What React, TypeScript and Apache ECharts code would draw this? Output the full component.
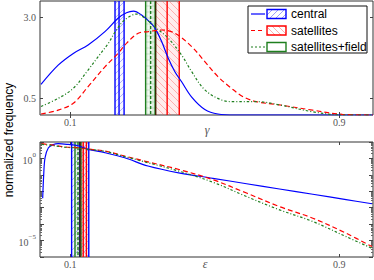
import React, { useEffect, useRef } from "react";
import * as echarts from "echarts";

const BLUE = "#0000ff";
const RED = "#ff0000";
const GREEN = "#1f7f1f";
const DARK_EDGE = "#3a2600";

// ---- top panel (gamma) ----
const centralGammaX = [0.013, 0.064, 0.109, 0.153, 0.203, 0.242, 0.267, 0.288, 0.312, 0.342, 0.354, 0.372, 0.391, 0.411, 0.431, 0.461, 0.5, 0.539, 0.589, 0.7, 1.0];
const centralGammaY = [0.94, 1.53, 1.89, 2.15, 2.56, 2.97, 3.14, 3.19, 3.07, 2.8, 2.63, 2.25, 1.75, 1.33, 1.02, 0.55, 0.17, 0.03, 0, 0, 0];

const satellitesGammaX = [0.013, 0.064, 0.109, 0.153, 0.203, 0.242, 0.267, 0.302, 0.332, 0.372, 0.411, 0.461, 0.5, 0.539, 0.579, 0.614, 0.653, 0.722, 0.82, 0.909, 1.0];
const satellitesGammaY = [0.03, 0.15, 0.36, 0.87, 1.48, 1.89, 2.2, 2.51, 2.56, 2.61, 2.51, 2.1, 1.64, 1.18, 0.82, 0.56, 0.41, 0.31, 0.15, 0.02, 0];

const fieldGammaX = [0.013, 0.064, 0.109, 0.153, 0.183, 0.213, 0.237, 0.262, 0.298, 0.322, 0.352, 0.391, 0.431, 0.461, 0.5, 0.55, 0.589, 0.653, 0.722, 0.82, 0.909, 1.0];
const fieldGammaY = [0.26, 0.51, 0.82, 1.38, 1.79, 2.2, 2.61, 2.92, 3.1, 2.97, 2.7, 2.36, 1.84, 1.33, 0.77, 0.46, 0.41, 0.41, 0.31, 0.1, 0, 0];

// ---- bottom panel (epsilon, log y) ----
const centralEpsX = [0.018, 0.021, 0.025, 0.035, 0.05, 0.064, 0.094, 0.124, 0.153, 0.203, 0.262, 0.331, 0.426, 0.524, 0.624, 0.722, 0.821, 0.92, 0.997];
const centralEpsY = [3.8e-3, 0.1, 1.1, 4.47, 7.08, 7.94, 7.08, 5.75, 3.55, 2.24, 1.1, 0.347, 0.129, 0.0617, 0.0288, 0.0138, 6.6e-3, 3.09e-3, 1.74e-3];

const satellitesEpsX = [0.015, 0.045, 0.084, 0.124, 0.163, 0.203, 0.262, 0.321, 0.426, 0.525, 0.624, 0.722, 0.821, 0.92, 0.997];
const satellitesEpsY = [7.9, 6.6, 5.0, 4.5, 3.55, 2.8, 1.4, 0.69, 0.204, 0.05, 7.8e-3, 1.17e-3, 2.3e-4, 2.8e-5, 4.3e-6];

const fieldEpsX = [0.015, 0.045, 0.084, 0.124, 0.163, 0.203, 0.262, 0.321, 0.426, 0.525, 0.624, 0.722, 0.821, 0.92, 0.997];
const fieldEpsY = [7.2, 6.2, 4.8, 4.3, 3.4, 2.7, 1.3, 0.62, 0.162, 0.035, 4.8e-3, 7.4e-4, 1.45e-4, 1.74e-5, 3.4e-6];

// ---- bands: [low, centre, high] ----
const centralGammaBand = [0.233, 0.245, 0.26];
const satellitesGammaBand = [0.354, 0.388, 0.424];
const fieldGammaBand = [0.324, 0.339, 0.352];
const centralEpsBand = [0.104, 0.128, 0.155];
const satellitesEpsBand = [0.129, 0.1385, 0.148];
const fieldEpsBand = [0.114, 0.123, 0.132];

// ---- ticks / texts ----
const xTickValues = [0.1, 0.9];
const gammaFreqTicks = [0.5, 3.0];
const legendNames = ["central", "satellites", "satellites+field"];
const axisTitles = ["\u03b3", "\u03b5"];

const zip = (xs: number[], ys: number[]) => xs.map((x, i) => [x, ys[i]]);

type Seg = [number, number, number, number];
function hatch(x0: number, y0: number, x1: number, y1: number, kind: string, step: number): Seg[] {
  const segs: Seg[] = [];
  if (kind === "/") {
    for (let c = Math.ceil((x0 + y0) / step) * step; c < x1 + y1; c += step) {
      const xa = Math.max(x0, c - y1), xb = Math.min(x1, c - y0);
      if (xb > xa) segs.push([xa, c - xa, xb, c - xb]);
    }
  } else if (kind === "\\") {
    for (let c = Math.ceil((y0 - x1) / step) * step; c < y1 - x0; c += step) {
      const xa = Math.max(x0, y0 - c), xb = Math.min(x1, y1 - c);
      if (xb > xa) segs.push([xa, xa + c, xb, xb + c]);
    }
  } else if (kind === "+") {
    for (let x = Math.ceil(x0 / 3) * 3; x < x1; x += 3) segs.push([x, y0, x, y1]);
    for (let y = Math.ceil(y0 / 6) * 6; y < y1; y += 6) segs.push([x0, y, x1, y]);
  }
  return segs;
}

type BandStyle = { color: string; leftColor?: string; fill: string; hatchColor: string; kind: string; midDash?: number[] };

function bandRenderer(st: BandStyle) {
  return (params: any, api: any) => {
    const cs = params.coordSys;
    const yRef = api.value(3);
    const xl = api.coord([api.value(0), yRef])[0];
    const xm = api.coord([api.value(1), yRef])[0];
    const xr = api.coord([api.value(2), yRef])[0];
    const top = cs.y, bot = cs.y + cs.height;
    const children: any[] = [];
    children.push({ type: "rect", shape: { x: xl, y: top, width: xr - xl, height: bot - top }, style: { fill: st.fill } });
    hatch(xl, top, xr, bot, st.kind, 7).forEach((s) =>
      children.push({ type: "line", shape: { x1: s[0], y1: s[1], x2: s[2], y2: s[3] }, style: { stroke: st.hatchColor, lineWidth: 0.8 } })
    );
    const vline = (x: number, color: string, dash?: number[]) => ({
      type: "line",
      shape: { x1: x, y1: top, x2: x, y2: bot },
      style: { stroke: color, lineWidth: 1.4, lineDash: dash || null },
    });
    children.push(vline(xl, st.leftColor || st.color));
    children.push(vline(xr, st.color));
    children.push(vline(xm, st.color, st.midDash));
    return { type: "group", children };
  };
}

const blueBand: BandStyle = { color: BLUE, fill: "rgba(0,0,255,0.03)", hatchColor: "rgba(80,80,255,0.55)", kind: "/" };
const redBand: BandStyle = { color: RED, leftColor: DARK_EDGE, fill: "rgba(255,0,0,0.07)", hatchColor: "rgba(255,80,80,0.5)", kind: "\\" };
const greenBand: BandStyle = { color: GREEN, fill: "rgba(0,128,0,0.05)", hatchColor: "rgba(40,140,40,0.22)", kind: "+", midDash: [3, 2] };

function bandSeries(band: number[], st: BandStyle, grid: number, yRef: number) {
  return {
    type: "custom",
    xAxisIndex: grid * 2,
    yAxisIndex: grid * 2,
    clip: true,
    silent: true,
    z: 2,
    encode: { x: [0, 1, 2], y: 3 },
    data: [[band[0], band[1], band[2], yRef]],
    renderItem: bandRenderer(st),
  };
}

const lineStyles = [
  { color: BLUE, width: 1.2, type: "solid" as any },
  { color: RED, width: 1.2, type: [5, 3] as any },
  { color: GREEN, width: 1.2, type: [2.5, 2, 1, 2] as any },
];

function lineSeries(data: number[][], idx: number, grid: number) {
  return {
    type: "line",
    xAxisIndex: grid * 2,
    yAxisIndex: grid * 2,
    data,
    showSymbol: false,
    smooth: 0.35,
    silent: true,
    z: 5,
    lineStyle: lineStyles[idx],
  };
}

const tickFont = { fontFamily: "Liberation Serif", fontSize: 10, color: "#555" };

function legendGraphics() {
  const els: any[] = [];
  els.push({ type: "rect", z: 100, shape: { x: 248, y: 6, width: 119, height: 47 }, style: { fill: "#fff", stroke: "#111", lineWidth: 1 } });
  const kinds = ["/", "\\", "+"];
  const colors = [BLUE, RED, GREEN];
  const hatchCols = ["rgba(80,80,255,0.7)", "rgba(255,80,80,0.6)", "rgba(40,140,40,0.0)"];
  const dashes: any[] = [null, [4, 3], [2, 2]];
  legendNames.forEach((name, i) => {
    const cy = 14 + i * 16.5;
    els.push({ type: "line", z: 101, shape: { x1: 251, y1: cy, x2: 265, y2: cy }, style: { stroke: colors[i], lineWidth: 1.2, lineDash: dashes[i] } });
    const px = 267, py = cy - 4.5, pw = 19, ph = 9;
    hatch(px, py, px + pw, py + ph, kinds[i], 6).forEach((s) =>
      els.push({ type: "line", z: 101, shape: { x1: s[0], y1: s[1], x2: s[2], y2: s[3] }, style: { stroke: hatchCols[i], lineWidth: 0.8 } })
    );
    els.push({ type: "rect", z: 102, shape: { x: px, y: py, width: pw, height: ph }, style: { fill: "none", stroke: colors[i], lineWidth: 1.4 } });
    els.push({ type: "text", z: 102, x: 291, y: cy, style: { text: name, font: '12px "Liberation Sans"', fill: "#000", verticalAlign: "middle", align: "left" } });
  });
  els.push({
    type: "text",
    z: 102,
    x: 9,
    y: 140,
    rotation: Math.PI / 2,
    style: { text: "normalized frequency", font: '12px "Liberation Sans"', fill: "#000", align: "center", verticalAlign: "middle" },
  });
  els.push({ type: "text", z: 102, x: 207, y: 130, style: { text: axisTitles[0], font: 'italic 12px "Liberation Serif"', fill: "#555", align: "center", verticalAlign: "middle" } });
  els.push({ type: "text", z: 102, x: 205, y: 264, style: { text: axisTitles[1], font: 'italic 12px "Liberation Serif"', fill: "#555", align: "center", verticalAlign: "middle" } });
  return els;
}

function xAxes(grid: number) {
  return [
    {
      gridIndex: grid,
      type: "value",
      min: 0.01,
      max: 1.0,
      position: "bottom",
      axisLine: { show: false },
      splitLine: { show: false },
      axisTick: { inside: true, length: 3, customValues: xTickValues, lineStyle: { color: "#444" } },
      axisLabel: { customValues: xTickValues, formatter: (v: number) => v.toFixed(1), margin: 2, ...tickFont },
    },
    {
      gridIndex: grid,
      type: "value",
      min: 0.01,
      max: 1.0,
      position: "top",
      axisLine: { show: false },
      splitLine: { show: false },
      axisTick: { inside: true, length: 3, customValues: xTickValues, lineStyle: { color: "#444" } },
      axisLabel: { show: false },
    },
  ];
}

function logLabel(v: number) {
  const e = Math.round(Math.log10(v));
  if (e === 0) return "{b|10}{s|0}";
  if (e === -5) return "{b|10}{s|\u22125}";
  return "";
}

export default function App() {
  const ref = useRef<HTMLDivElement>(null);
  useEffect(() => {
    if (!ref.current) return;
    const chart = echarts.init(ref.current, undefined, { renderer: "svg" });
    const yLinear = (pos: string, labels: boolean) => ({
      gridIndex: 0,
      type: "value",
      min: 0,
      max: 3.5,
      position: pos,
      axisLine: { show: false },
      splitLine: { show: false },
      axisTick: { inside: true, length: 3, customValues: gammaFreqTicks, lineStyle: { color: "#444" } },
      axisLabel: labels ? { customValues: gammaFreqTicks, formatter: (v: number) => v.toFixed(1), margin: 4, ...tickFont } : { show: false },
    });
    const yLog = (pos: string, labels: boolean) => ({
      gridIndex: 1,
      type: "log",
      logBase: 10,
      min: 1e-6,
      max: 10,
      splitNumber: 7,
      position: pos,
      axisLine: { show: false },
      splitLine: { show: false },
      minorTick: { show: true, splitNumber: 9, length: 2, lineStyle: { color: "#666" } },
      axisTick: { inside: true, length: 4, lineStyle: { color: "#444" } },
      axisLabel: labels
        ? {
            formatter: logLabel,
            margin: 4,
            rich: {
              b: { ...tickFont, fontSize: 10, lineHeight: 14, verticalAlign: "bottom" },
              s: { ...tickFont, fontSize: 7, lineHeight: 14, verticalAlign: "top", padding: [0, 0, 6, 0] },
            },
          }
        : { show: false },
    });
    chart.setOption({
      animation: false,
      backgroundColor: "#fff",
      grid: [
        { left: 40, top: 1, width: 333, height: 114, show: true, borderColor: "#333", borderWidth: 1, backgroundColor: "transparent" },
        { left: 40, top: 142, width: 333, height: 115, show: true, borderColor: "#333", borderWidth: 1, backgroundColor: "transparent" },
      ],
      xAxis: [...xAxes(0), ...xAxes(1)],
      yAxis: [yLinear("left", true), yLinear("right", false), yLog("left", true), yLog("right", false)],
      series: [
        bandSeries(centralGammaBand, blueBand, 0, 1),
        bandSeries(fieldGammaBand, greenBand, 0, 1),
        bandSeries(satellitesGammaBand, redBand, 0, 1),
        bandSeries(centralEpsBand, blueBand, 1, 1),
        bandSeries(fieldEpsBand, greenBand, 1, 1),
        bandSeries(satellitesEpsBand, redBand, 1, 1),
        lineSeries(zip(centralGammaX, centralGammaY), 0, 0),
        lineSeries(zip(satellitesGammaX, satellitesGammaY), 1, 0),
        lineSeries(zip(fieldGammaX, fieldGammaY), 2, 0),
        lineSeries(zip(centralEpsX, centralEpsY), 0, 1),
        lineSeries(zip(satellitesEpsX, satellitesEpsY), 1, 1),
        lineSeries(zip(fieldEpsX, fieldEpsY), 2, 1),
      ],
      graphic: legendGraphics(),
    });
    return () => chart.dispose();
  }, []);
  return <div ref={ref} style={{ position: "fixed", left: 0, top: 0, width: 374, height: 280 }} />;
}
